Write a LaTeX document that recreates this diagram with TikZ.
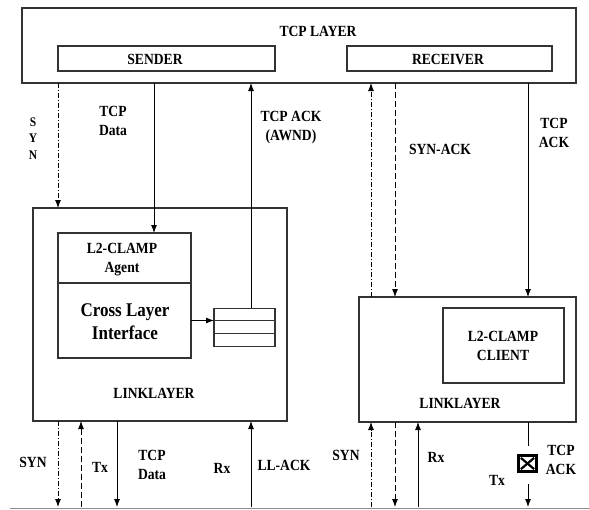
\documentclass[tikz,border=0pt]{standalone}
\usepackage{fontspec}
\setmainfont{Liberation Serif}
\usetikzlibrary{arrows.meta}
\newcommand\tl[1]{\scalebox{1}[1.14]{#1}}
\tikzset{
  box/.style={draw=black!80, line width=1.2pt, inner sep=0pt, outer sep=0pt},
  lbl/.style={font=\fontsize{13.6}{19}\selectfont\bfseries, align=center, inner sep=0pt},
  small/.style={font=\fontsize{11.5}{16}\selectfont\bfseries, inner sep=0pt},
  arr/.style={line width=0.9pt, -{Latex[length=8pt,width=6pt]}},
  plain/.style={line width=0.9pt},
  dd/.style={dash pattern=on 5pt off 2pt on 1pt off 2pt},
  ds/.style={dash pattern=on 6pt off 3pt},
}
\begin{document}
\begin{tikzpicture}[x=1pt,y=-1pt]
\useasboundingbox (0,0) rectangle (589,509);
% x-positions of the vertical connectors
\coordinate (c58) at (58,0);
\coordinate (c81) at (81,0);
\coordinate (c117) at (117,0);
\coordinate (c154) at (154,0);
\coordinate (c251) at (251,0);
\coordinate (c371) at (371,0);
\coordinate (c395) at (395,0);
\coordinate (c418) at (418,0);
\coordinate (c528) at (528,0);
\coordinate (floor) at (0,507);

% TCP layer
\node[box, minimum width=554pt, minimum height=75pt] (tcp) at (299,45.5) {};
\node[lbl] (tcpt) at (318,31) {\tl{TCP LAYER}};
\node[box, minimum width=217pt, minimum height=25pt] (sender) at (166.5,58.5) {};
\node[lbl] (sendert) at (155,59) {\tl{SENDER}};
\node[box, minimum width=205pt, minimum height=25pt] (receiver) at (449.5,58.5) {};
\node[lbl] (receivert) at (448,59) {\tl{RECEIVER}};

% Left link layer
\node[box, minimum width=254pt, minimum height=213pt] (llL) at (160,314.5) {};
\node[box, minimum width=133pt, minimum height=50pt] (agent) at (124.5,258) {};
\node[lbl] (agentt) at (122,260) {\tl{L2-CLAMP}\\\tl{Agent}};
\node[box, minimum width=133pt, minimum height=75pt] (cli) at (124.5,320.5) {};
\node[lbl, font=\fontsize{17}{23}\selectfont\bfseries] (clit) at (125,322) {\tl{Cross Layer}\\\tl{Interface}};
\node[box, minimum width=61pt, minimum height=12.7pt] (q1) at (244.5,314.5) {};
\node[box, minimum width=61pt, minimum height=12.7pt] (q2) at (244.5,327.2) {};
\node[box, minimum width=61pt, minimum height=12.7pt] (q3) at (244.5,339.9) {};
\node[lbl] (llLt) at (154,393) {\tl{LINKLAYER}};

% Right link layer
\node[box, minimum width=217pt, minimum height=125pt] (llR) at (467.5,359.5) {};
\node[box, minimum width=121pt, minimum height=75pt] (client) at (503.5,345.5) {};
\node[lbl] (clientt) at (503,346) {\tl{L2-CLAMP}\\\tl{CLIENT}};
\node[lbl] (llRt) at (460,403) {\tl{LINKLAYER}};

% X box on receiver Tx
\node[draw=black, line width=3.2pt, minimum width=18pt, minimum height=16pt, inner sep=0pt] (xbox) at (527.5,463.5) {};
\draw[line width=2.2pt] ([shift={(4pt,-4pt)}]xbox.north west) -- ([shift={(-4pt,4pt)}]xbox.south east);
\draw[line width=2.2pt] ([shift={(-4pt,-4pt)}]xbox.north east) -- ([shift={(4pt,4pt)}]xbox.south west);

% connectors between TCP layer and link layers
\draw[arr, dd] (tcp.south -| c58) -- (llL.north -| c58);
\draw[arr] (tcp.south -| c154) -- (agent.north -| c154);
\draw[arr] (q1.north -| c251) -- (tcp.south -| c251);
\draw[arr] (cli.east) -- (cli.east -| q1.west);
\draw[arr, dd] (llR.north -| c371) -- (tcp.south -| c371);
\draw[arr, ds] (tcp.south -| c395) -- (llR.north -| c395);
\draw[arr] (tcp.south -| c528) -- (llR.north -| c528);

% connectors below link layers
\draw[arr, dd] (llL.south -| c58) -- (floor -| c58);
\draw[arr, ds] (floor -| c81) -- (llL.south -| c81);
\draw[arr] (llL.south -| c117) -- (floor -| c117);
\draw[arr] (floor -| c251) -- (llL.south -| c251);
\draw[arr, dd] (floor -| c371) -- (llR.south -| c371);
\draw[arr, ds] (llR.south -| c395) -- (floor -| c395);
\draw[arr] (floor -| c418) -- (llR.south -| c418);
\draw[plain] (llR.south -| c528) -- ([yshift=8pt]xbox.north -| c528);
\draw[arr] ([yshift=-11pt]xbox.south -| c528) -- (floor -| c528);

% bottom line
\coordinate (bl) at (10,508.5);
\coordinate (br) at (589,508.5);
\draw[black!45, line width=1pt] (bl) -- (br);

% labels
\node[small] (s1) at (33,122) {\tl{S}};
\node[small] (s2) at (33,138) {\tl{Y}};
\node[small] (s3) at (33,155) {\tl{N}};
\node[lbl] (l1) at (113,121) {\tl{TCP}\\\tl{Data}};
\node[lbl] (l2) at (291,128) {\tl{TCP ACK}\\\tl{(AWND)}};
\node[lbl] (l3) at (440,149) {\tl{SYN-ACK}};
\node[lbl] (l4) at (554,133) {\tl{TCP}\\\tl{ACK}};
\node[lbl] (b1) at (33,462) {\tl{SYN}};
\node[lbl] (b2) at (100,467) {\tl{Tx}};
\node[lbl] (b3) at (152,465) {\tl{TCP}\\\tl{Data}};
\node[lbl] (b4) at (222,468) {\tl{Rx}};
\node[lbl] (b5) at (284,465) {\tl{LL-ACK}};
\node[lbl] (b6) at (346,455) {\tl{SYN}};
\node[lbl] (b7) at (436,457) {\tl{Rx}};
\node[lbl] (b8) at (561,460) {\tl{TCP}\\\tl{ACK}};
\node[lbl] (b9) at (497,480) {\tl{Tx}};
\end{tikzpicture}
\end{document}
